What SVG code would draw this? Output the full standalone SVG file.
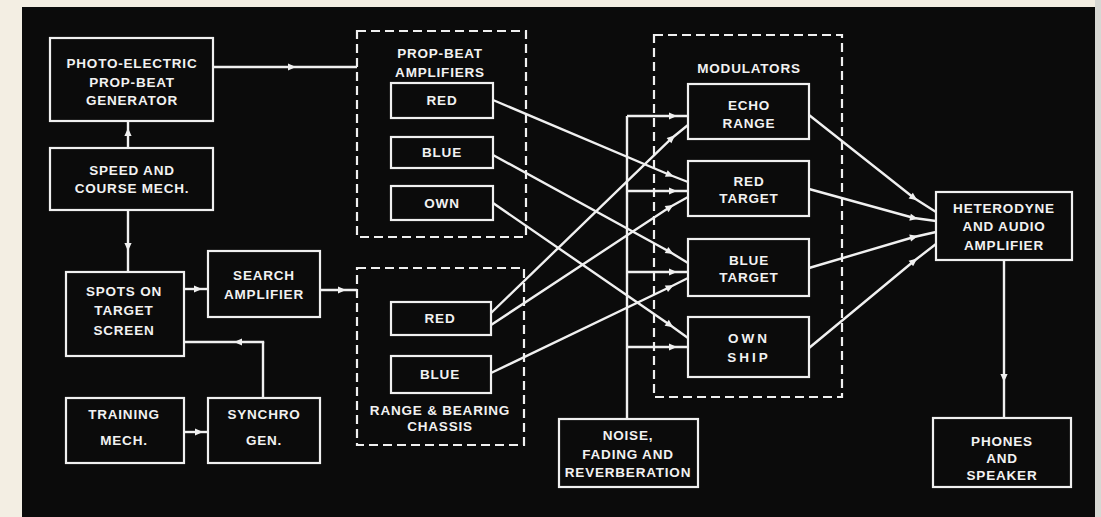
<svg xmlns="http://www.w3.org/2000/svg" width="1101" height="517" viewBox="0 0 1101 517">
<defs>
<style>
.box{fill:none;stroke:#f0f0f0;stroke-width:2.2}
.dash{fill:none;stroke:#f0f0f0;stroke-width:2.2;stroke-dasharray:9 5}
.ln{fill:none;stroke:#f0f0f0;stroke-width:2.4;marker-mid:url(#ah)}
.pl{fill:none;stroke:#f0f0f0;stroke-width:2.4}
text{font-family:"Liberation Sans",Arial,sans-serif;font-weight:bold;font-size:13.5px;fill:#f2f2f2;text-anchor:middle;dominant-baseline:central;letter-spacing:0.8px}
</style>
<marker id="ah" viewBox="0 0 10 10" refX="5" refY="5" markerWidth="10" markerHeight="8" orient="auto" markerUnits="userSpaceOnUse">
<path d="M0,0.5 L10,5 L0,9.5 Z" fill="#f0f0f0"/>
</marker>
</defs>
<rect x="0" y="0" width="1101" height="517" fill="#f3eee3"/>
<rect x="1095" y="0" width="6" height="517" fill="#d8d8d4"/>
<rect x="22" y="7" width="1073" height="510" fill="#0b0b0b"/>

<g id="connectors">
<path class="ln" d="M213,67 L292,67 L357,67"/>
<path class="ln" d="M128,148 L128,132 L128,121"/>
<path class="ln" d="M128,210 L128,247 L128,272"/>
<path class="ln" d="M184,289 L198,289 L208,289"/>
<path class="ln" d="M320,290 L342,290 L357,290"/>
<path class="ln" d="M184,432 L199,432 L208,432"/>
<path class="pl" d="M263,398 L263,342"/>
<path class="ln" d="M264.2,342 L238,342 L184,342"/>
<path class="ln" d="M493,100 L670,175 L688,182"/>
<path class="ln" d="M493,155 L670,252 L688,263"/>
<path class="ln" d="M493,203 L670,325 L688,338"/>
<path class="ln" d="M491,313 L672,138 L688,125"/>
<path class="ln" d="M491,325 L670,207 L688,197"/>
<path class="ln" d="M491,373 L670,287 L688,278"/>
<path class="pl" d="M627,419 L627,116"/>
<path class="ln" d="M627,116 L673,116 L688,116"/>
<path class="ln" d="M627,191 L673,191 L688,191"/>
<path class="ln" d="M627,272 L673,272 L688,272"/>
<path class="ln" d="M627,347 L673,347 L688,347"/>
<path class="ln" d="M809,115 L914,198 L936,212"/>
<path class="ln" d="M809,189 L914,218 L936,221"/>
<path class="ln" d="M809,268 L914,237 L936,232"/>
<path class="ln" d="M809,348 L914,261 L936,244"/>
<path class="ln" d="M1004,260 L1004,378 L1004,418"/>
</g>

<g id="photo-electric">
<rect class="box" x="50" y="38" width="163" height="83"/>
<text x="132" y="63">PHOTO-ELECTRIC</text>
<text x="132" y="82">PROP-BEAT</text>
<text x="132" y="100">GENERATOR</text>
</g>
<g id="speed-course">
<rect class="box" x="50" y="148" width="163" height="62"/>
<text x="132" y="170">SPEED AND</text>
<text x="132" y="188">COURSE MECH.</text>
</g>
<g id="spots">
<rect class="box" x="66" y="272" width="118" height="84"/>
<text x="124" y="291">SPOTS ON</text>
<text x="124" y="310">TARGET</text>
<text x="124" y="330">SCREEN</text>
</g>
<g id="search-amp">
<rect class="box" x="208" y="251" width="112" height="66"/>
<text x="264" y="275">SEARCH</text>
<text x="264" y="294">AMPLIFIER</text>
</g>
<g id="training">
<rect class="box" x="66" y="398" width="118" height="65"/>
<text x="124" y="414">TRAINING</text>
<text x="124" y="440">MECH.</text>
</g>
<g id="synchro">
<rect class="box" x="208" y="398" width="112" height="65"/>
<text x="264" y="414">SYNCHRO</text>
<text x="264" y="440">GEN.</text>
</g>

<g id="prop-beat-amplifiers">
<rect class="dash" x="357" y="31" width="169" height="206"/>
<text x="440" y="53">PROP-BEAT</text>
<text x="440" y="72">AMPLIFIERS</text>
</g>
<g id="pb-red">
<rect class="box" x="391" y="83" width="102" height="35"/>
<text x="442" y="100">RED</text>
</g>
<g id="pb-blue">
<rect class="box" x="391" y="137" width="102" height="31"/>
<text x="442" y="152">BLUE</text>
</g>
<g id="pb-own">
<rect class="box" x="391" y="186" width="102" height="34"/>
<text x="442" y="203">OWN</text>
</g>

<g id="range-bearing-chassis">
<rect class="dash" x="357" y="268" width="167" height="177"/>
<text x="440" y="410">RANGE &amp; BEARING</text>
<text x="440" y="426">CHASSIS</text>
</g>
<g id="rb-red">
<rect class="box" x="391" y="302" width="100" height="33"/>
<text x="440" y="318">RED</text>
</g>
<g id="rb-blue">
<rect class="box" x="391" y="356" width="100" height="37"/>
<text x="440" y="374">BLUE</text>
</g>

<g id="noise">
<rect class="box" x="559" y="419" width="139" height="68"/>
<text x="628" y="435">NOISE,</text>
<text x="628" y="454">FADING AND</text>
<text x="628" y="472">REVERBERATION</text>
</g>

<g id="modulators">
<rect class="dash" x="654" y="35" width="188" height="362"/>
<text x="749" y="68">MODULATORS</text>
</g>
<g id="echo-range">
<rect class="box" x="688" y="84" width="121" height="55"/>
<text x="749" y="105">ECHO</text>
<text x="749" y="123">RANGE</text>
</g>
<g id="red-target">
<rect class="box" x="688" y="161" width="121" height="55"/>
<text x="749" y="181">RED</text>
<text x="749" y="198">TARGET</text>
</g>
<g id="blue-target">
<rect class="box" x="688" y="239" width="121" height="57"/>
<text x="749" y="260">BLUE</text>
<text x="749" y="277">TARGET</text>
</g>
<g id="own-ship">
<rect class="box" x="688" y="317" width="121" height="60"/>
<text x="749" y="338" style="letter-spacing:3px">OWN</text>
<text x="749" y="357" style="letter-spacing:3px">SHIP</text>
</g>

<g id="heterodyne">
<rect class="box" x="936" y="192" width="136" height="68"/>
<text x="1004" y="208">HETERODYNE</text>
<text x="1004" y="226">AND AUDIO</text>
<text x="1004" y="245">AMPLIFIER</text>
</g>
<g id="phones">
<rect class="box" x="933" y="418" width="138" height="69"/>
<text x="1002" y="441">PHONES</text>
<text x="1002" y="458">AND</text>
<text x="1002" y="475">SPEAKER</text>
</g>
</svg>
